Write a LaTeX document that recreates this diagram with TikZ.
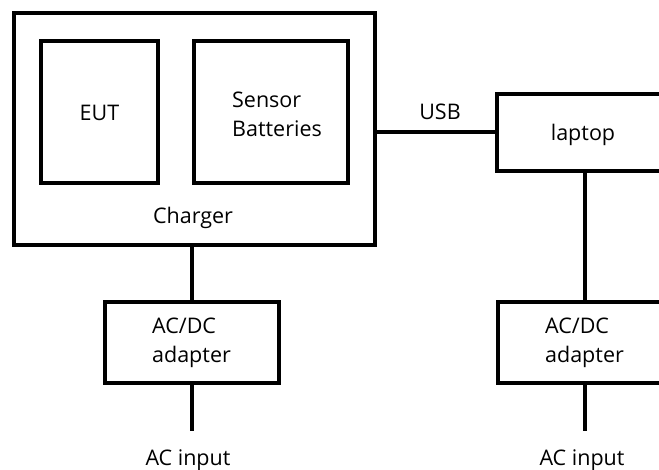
\documentclass[tikz,border=0pt]{standalone}
\usepackage{fontspec}
\setmainfont{Open Sans}
\begin{document}
\begin{tikzpicture}[x=1pt,y=-1pt,
  box/.style={draw=black,line width=4pt,inner sep=0pt,outer sep=0pt,fill=white},
  lbl/.style={font=\fontsize{21.5}{29}\selectfont,inner sep=0pt,align=left},
  wire/.style={draw=black,line width=4pt}]
\useasboundingbox[fill=white] (0,0) rectangle (659,470);
\node[box,minimum width=361pt,minimum height=232pt] (charger) at (194.5,129) {};
\node[box,minimum width=117pt,minimum height=142pt] (eut) at (99.5,112) {};
\node[box,minimum width=154pt,minimum height=142pt] (sensor) at (271,112) {};
\node[lbl] (eutlbl) at (99.5,113) {EUT};
\node[lbl] (senslbl) at (277,114) {Sensor\\Batteries};
\node[lbl] (chlbl) at (193,218) {Charger};
\node[box,minimum width=174pt,minimum height=77pt] (laptop) at (584,132.5) {};
\node[lbl] (laplbl) at (583,135) {laptop};
\node[lbl] (usb) at (440,112) {USB};
\node[box,minimum width=174pt,minimum height=81pt] (adL) at (192,342.5) {};
\node[lbl] (adLlbl) at (191.5,343) {AC/DC\\adapter};
\node[box,minimum width=174pt,minimum height=81pt] (adR) at (584.5,342.5) {};
\node[lbl] (adRlbl) at (584.5,343) {AC/DC\\adapter};
\coordinate (inL) at (192,431);
\coordinate (inR) at (584.5,431);
\node[lbl] (acL) at (188,460) {AC input};
\node[lbl] (acR) at (582,460) {AC input};
\draw[wire] (laptop.west) -- (laptop.west -| charger.east);
\draw[wire] (adL.north) -- (adL.north |- charger.south);
\draw[wire] (adR.north) -- (adR.north |- laptop.south);
\draw[wire] (adL.south) -- (inL);
\draw[wire] (adR.south) -- (inR);
\end{tikzpicture}
\end{document}
